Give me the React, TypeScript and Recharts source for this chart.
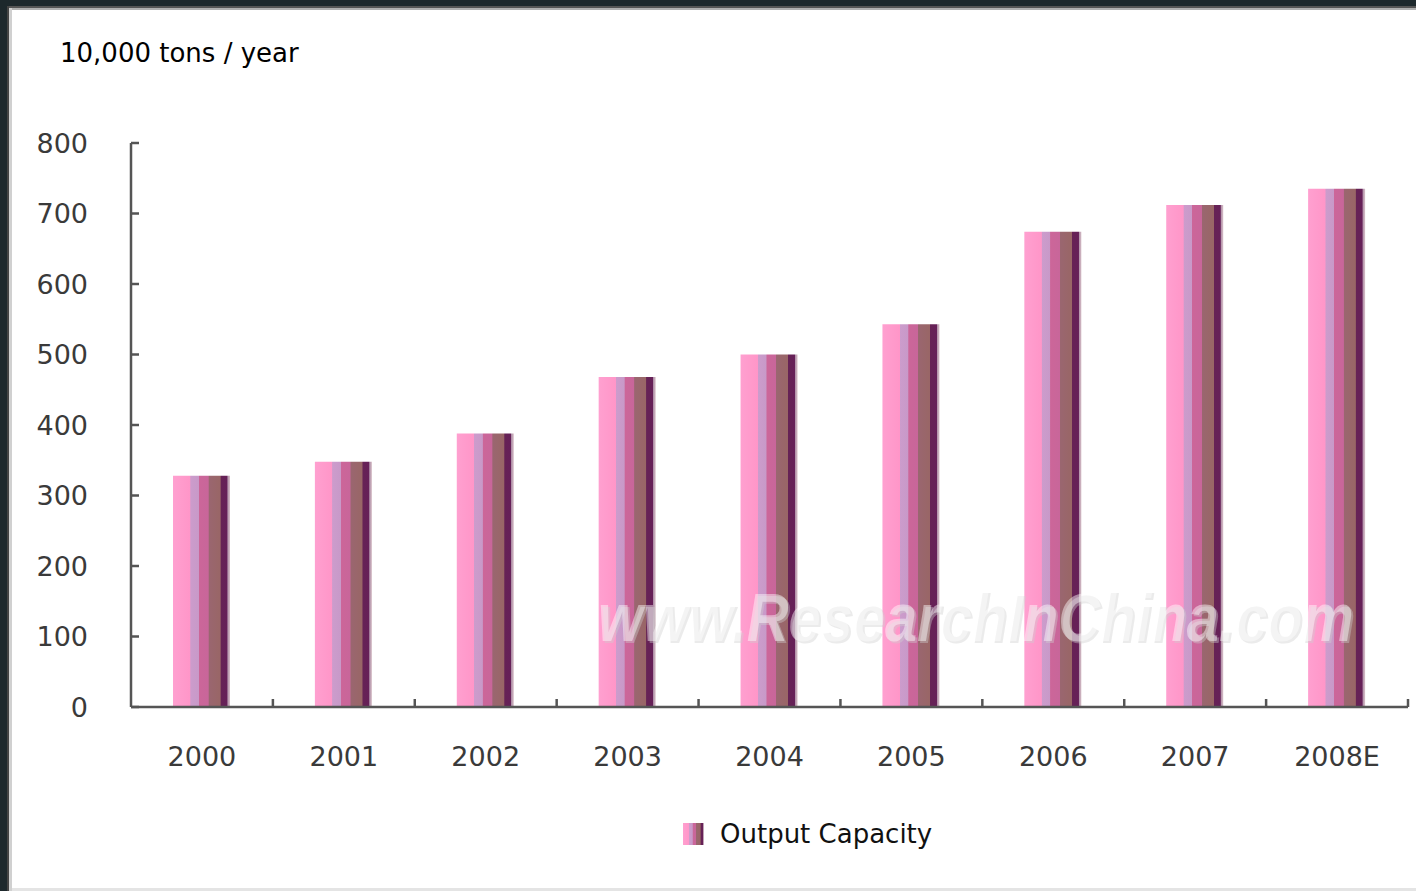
import React from "react";
import { BarChart, Bar, XAxis, YAxis } from "recharts";

const categories = ["2000", "2001", "2002", "2003", "2004", "2005", "2006", "2007", "2008E"];
const capacity = [328, 348, 388, 468, 500, 543, 674, 712, 735];
const yTicks = [0, 100, 200, 300, 400, 500, 600, 700, 800];
const unitLabel = "10,000 tons / year";
const seriesName = "Output Capacity";
const watermark = "www.ResearchInChina.com";

const data = categories.map((c, i) => ({ year: c, value: capacity[i] }));

const W = 1416;
const H = 891;
const M = { top: 143, right: 8, bottom: 0, left: 0 };
const Y_AXIS_W = 131;
const X_AXIS_H = 184;
const FONT = "'DejaVu Sans', sans-serif";
const WM_SCALE = 0.85;

const stops: [number, string][] = [
  [0, "#ffa0d0"],
  [0.3, "#ff96c8"],
  [0.31, "#cc9ccc"],
  [0.45, "#c899c8"],
  [0.46, "#cc6699"],
  [0.62, "#c8669a"],
  [0.63, "#9a6670"],
  [0.83, "#996666"],
  [0.84, "#662255"],
  [0.95, "#662058"],
  [0.96, "#b090a8"],
  [1, "#d8c0c8"],
];

const Grad = ({ id }: { id: string }) => (
  <linearGradient id={id} x1="0" y1="0" x2="1" y2="0">
    {stops.map(([o, c], i) => (
      <stop key={i} offset={o} stopColor={c} />
    ))}
  </linearGradient>
);

const YTick = (props: any) => {
  const { x, y, payload } = props;
  return (
    <g>
      <line x1={x} x2={x + 8} y1={y} y2={y} stroke="#555" strokeWidth={2.5} />
      <text x={x - 43} y={y} textAnchor="end" dominantBaseline="central" fontFamily={FONT} fontSize={27} fill="#3a3a3a">
        {payload.value}
      </text>
    </g>
  );
};

const plotW = W - Y_AXIS_W - M.left - M.right;
const band = plotW / categories.length;

const XTick = (props: any) => {
  const { x, y, payload } = props;
  const bx = x + band / 2;
  return (
    <g>
      <line x1={bx} x2={bx} y1={y} y2={y - 8} stroke="#555" strokeWidth={2.5} />
      <text x={x} y={y + 49} textAnchor="middle" dominantBaseline="central" fontFamily={FONT} fontSize={27} fill="#3a3a3a">
        {payload.value}
      </text>
    </g>
  );
};

export default function App() {
  return (
    <div style={{ position: "absolute", left: 0, top: 0, width: W, height: H, background: "#fff", overflow: "hidden" }}>
      <div style={{ position: "absolute", left: 0, top: 0, width: W, height: 6, background: "#1d282c" }} />
      <div style={{ position: "absolute", left: 0, top: 6, width: W, height: 2, background: "#555" }} />
      <div style={{ position: "absolute", left: 0, top: 8, width: W, height: 2, background: "#b0b0b0" }} />
      <div style={{ position: "absolute", left: 0, top: 0, width: 7, height: H, background: "#1d282c" }} />
      <div style={{ position: "absolute", left: 7, top: 6, width: 2, height: H, background: "#444" }} />
      <div style={{ position: "absolute", left: 9, top: 8, width: 3, height: H, background: "#d0d0d0" }} />
      <div style={{ position: "absolute", left: 12, top: 888, width: W, height: 3, background: "#e4e4e4" }} />
      <div style={{ position: "absolute", left: 60, top: 37, fontFamily: FONT, fontSize: 26, color: "#000", whiteSpace: "nowrap", lineHeight: "32px" }}>
        {unitLabel}
      </div>
      <BarChart width={W} height={H} data={data} margin={M} style={{ position: "absolute", left: 0, top: 0 }}>
        <defs>
          <Grad id="barGrad" />
        </defs>
        <YAxis
          domain={[0, 800]}
          ticks={yTicks}
          width={Y_AXIS_W}
          tickSize={0}
          tickMargin={0}
          tickLine={false}
          axisLine={{ stroke: "#555", strokeWidth: 2.5 }}
          tick={<YTick />}
          interval={0}
        />
        <XAxis
          dataKey="year"
          height={X_AXIS_H}
          tickSize={0}
          tickMargin={0}
          tickLine={false}
          axisLine={{ stroke: "#555", strokeWidth: 2.5 }}
          tick={<XTick />}
          interval={0}
        />
        <Bar dataKey="value" name={seriesName} fill="url(#barGrad)" barSize={57} isAnimationActive={false} />
      </BarChart>
      <svg width={W} height={H} style={{ position: "absolute", left: 0, top: 0, pointerEvents: "none" }}>
        <g transform={`scale(${WM_SCALE},1)`}>
          <text
            x={600 / WM_SCALE}
            y={643}
            fontFamily="'Liberation Sans', Arial, sans-serif"
            fontWeight="bold"
            fontStyle="italic"
            fontSize={68}
            fill="#cfcfcf"
            opacity={0.4}
          >
            {watermark}
          </text>
          <text
            x={598 / WM_SCALE}
            y={641}
            fontFamily="'Liberation Sans', Arial, sans-serif"
            fontWeight="bold"
            fontStyle="italic"
            fontSize={68}
            fill="#ffffff"
            opacity={0.45}
          >
            {watermark}
          </text>
        </g>
      </svg>
      <div style={{ position: "absolute", left: 683, top: 818, display: "flex", alignItems: "center", fontFamily: FONT, fontSize: 26, color: "#111", whiteSpace: "nowrap", lineHeight: "32px" }}>
        <svg width={21} height={22} style={{ marginRight: 16 }}>
          <defs>
            <Grad id="legGrad" />
          </defs>
          <rect x={0} y={0} width={21} height={22} fill="url(#legGrad)" />
        </svg>
        <span>{seriesName}</span>
      </div>
    </div>
  );
}
